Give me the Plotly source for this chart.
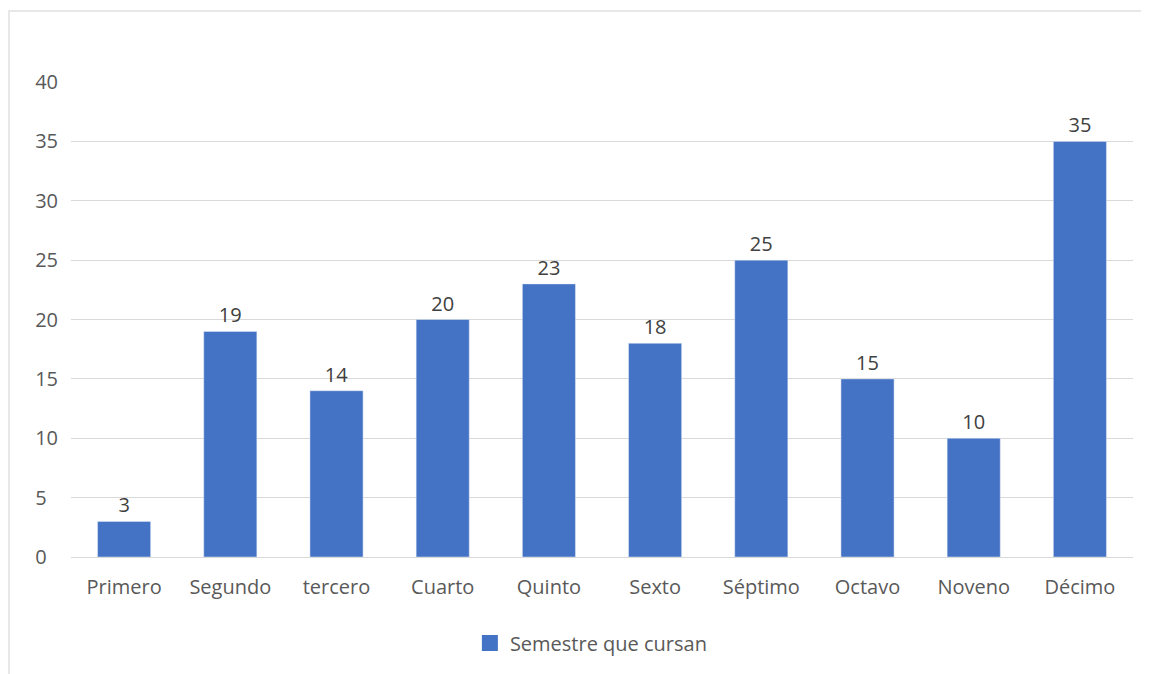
import plotly.graph_objects as go

semestres = ['Primero', 'Segundo', 'tercero', 'Cuarto', 'Quinto', 'Sexto',
             'Séptimo', 'Octavo', 'Noveno', 'Décimo']
estudiantes = [3, 19, 14, 20, 23, 18, 25, 15, 10, 35]
serie = 'Semestre que cursan'
y_ticks = [0, 5, 10, 15, 20, 25, 30, 35, 40]
# labels read left-aligned in the original, so pad the one-digit ones
y_ticktext = ['0\u2007', '5\u2007', '10', '15', '20', '25', '30', '35', '40']

# page body adds an 8px margin, so the figure is a little smaller than the window
W, H = 1141, 666
L, R, T, B = 63, 16, 74, 117
pw, ph = W - L - R, H - T - B


def px(x):
    return (x - L) / pw


def py(y):
    return (H - B - y) / ph


fig = go.Figure()
fig.add_trace(go.Bar(
    x=semestres,
    y=estudiantes,
    name=serie,
    marker_color='#4472C4',
    text=estudiantes,
    textposition='outside',
    textfont=dict(size=20, color='#404040'),
    cliponaxis=False,
    showlegend=False,
))
# legend entry with a larger square swatch
fig.add_trace(go.Scatter(
    x=[None], y=[None],
    mode='markers',
    name=serie,
    marker=dict(symbol='square', size=18, color='#4472C4'),
))

fig.update_layout(
    width=W, height=H,
    margin=dict(l=L, r=R, t=T, b=B),
    paper_bgcolor='white',
    plot_bgcolor='white',
    font=dict(family='Open Sans', size=20, color='#595959'),
    bargap=0.5,
    showlegend=True,
    legend=dict(orientation='h', x=0.49, xanchor='center', y=py(635), yanchor='middle',
                font=dict(size=20, color='#595959'), itemwidth=30),
    xaxis=dict(showgrid=False, showline=True, linecolor='#D9D9D9', ticks='',
               ticklabelstandoff=12, range=[-0.5, 9.5]),
    yaxis=dict(range=[0, 40], tickvals=y_ticks, ticktext=y_ticktext,
               gridcolor='#D9D9D9', zeroline=False,
               showline=False, ticklabelstandoff=12),
    shapes=[
        dict(type='line', xref='paper', yref='paper', x0=px(0), x1=px(W), y0=py(3), y1=py(3),
             line=dict(color='#E8E8E8', width=2)),
        dict(type='line', xref='paper', yref='paper', x0=px(1), x1=px(1), y0=py(3), y1=py(H),
             line=dict(color='#E8E8E8', width=2)),
    ],
)

fig.write_html('out.html')
